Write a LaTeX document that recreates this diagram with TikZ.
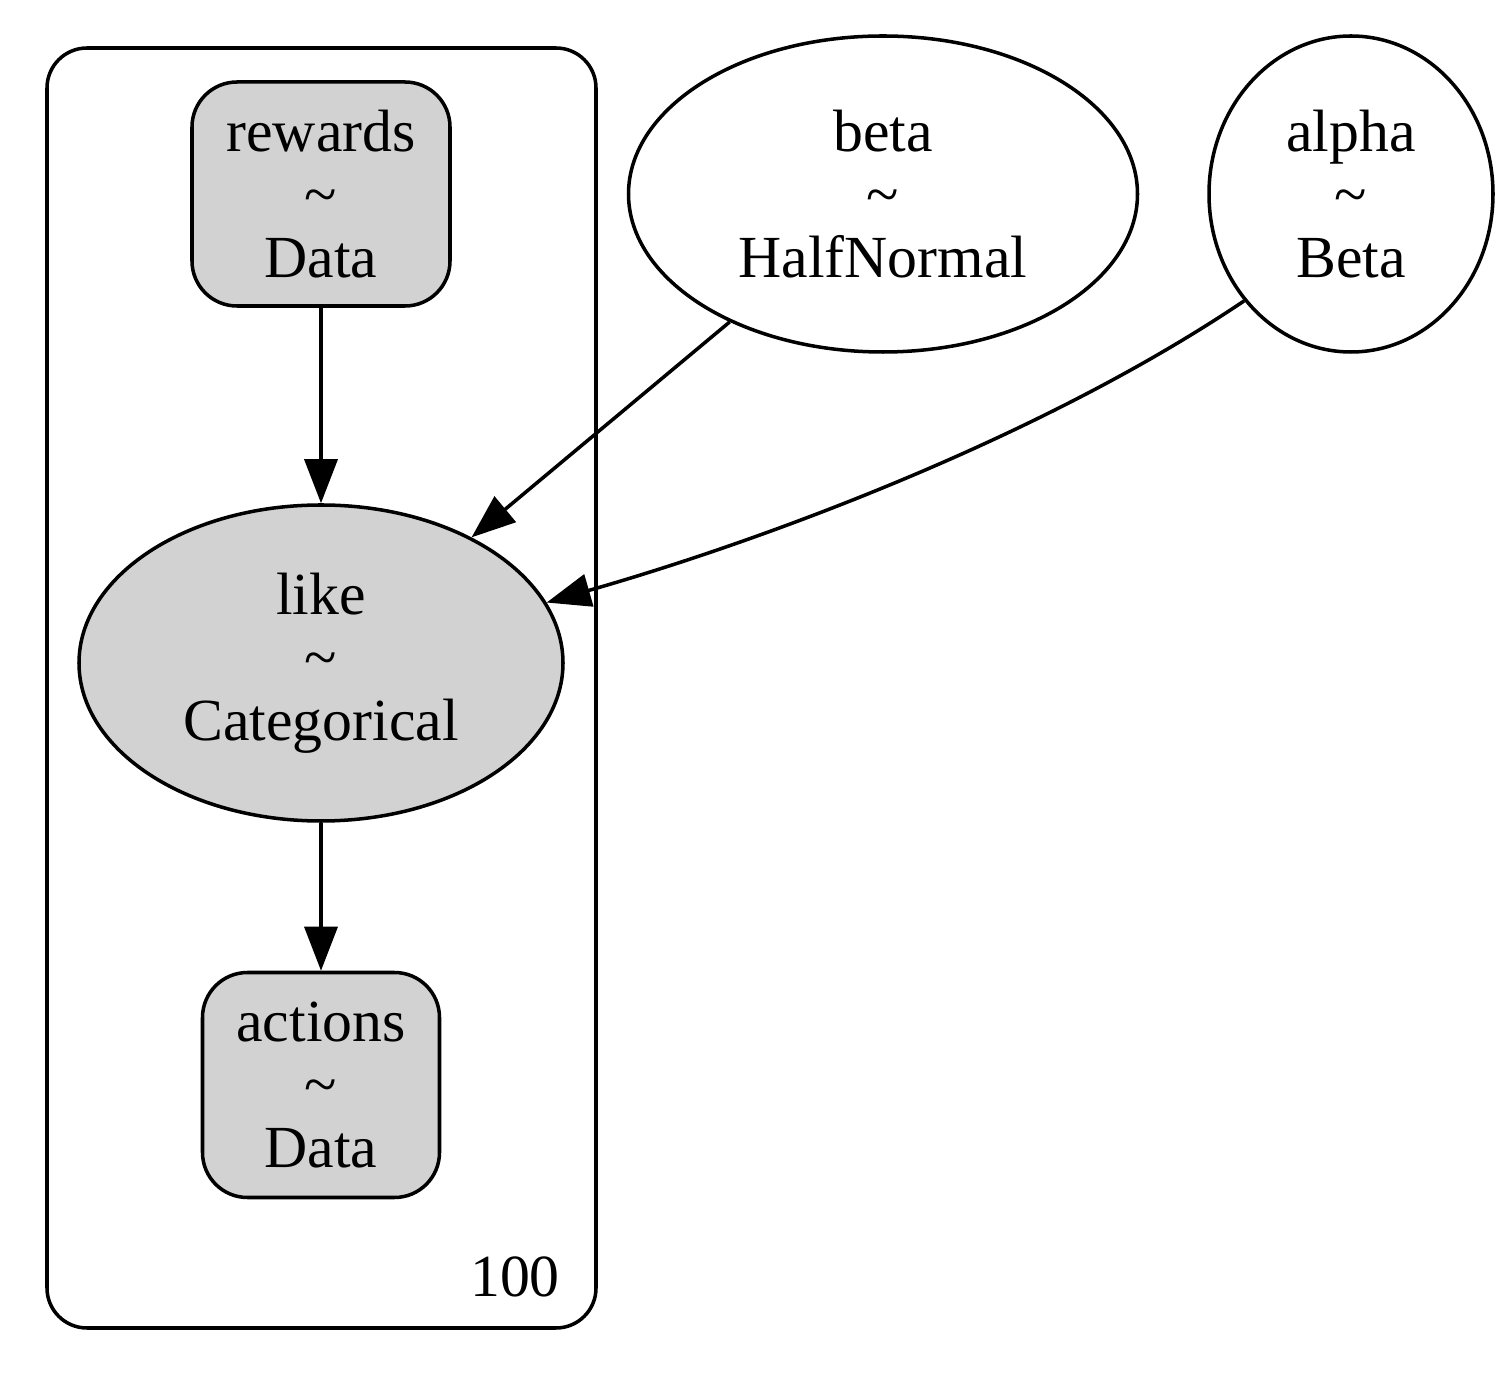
\documentclass[tikz,border=0pt]{standalone}
\usepackage{fontspec}
\setmainfont{Liberation Serif}
\usetikzlibrary{shapes.geometric, arrows.meta}
\tikzset{>={Triangle[length=0.44cm, width=0.33cm]}, % graphviz-like filled heads
every node/.style={font=\fontsize{17}{17.9}\selectfont, align=center, line width=1pt},
obs/.style={draw, rectangle, rounded corners=0.45cm, fill=gray!35, inner sep=0pt}, % observed data
rv/.style={draw, ellipse, inner sep=0pt}, % random variable
plate/.style={draw, rounded corners=0.4cm, line width=1pt},
}
\begin{document}
\begin{tikzpicture}[line width=1pt]
\useasboundingbox (0,0) rectangle (15.06,13.76);
\draw[plate] (0.47,0.48) rectangle (5.96,13.28);
\node[obs, minimum width=2.58cm, minimum height=2.24cm] (rewards) at (3.21,11.82) {rewards\\\textasciitilde\\Data};
\node[rv, minimum width=5.09cm, minimum height=3.16cm] (beta) at (8.83,11.82) {beta\\\textasciitilde\\HalfNormal};
\node[rv, minimum width=2.84cm, minimum height=3.16cm] (alpha) at (13.51,11.82) {alpha\\\textasciitilde\\Beta};
\node[rv, fill=gray!35, minimum width=4.84cm, minimum height=3.16cm] (like) at (3.21,7.13) {like\\\textasciitilde\\Categorical};
\node[obs, minimum width=2.37cm, minimum height=2.25cm] (actions) at (3.21,2.91) {actions\\\textasciitilde\\Data};
\node (n) at (5.15,0.99) {100};

\draw[->] (rewards) -- (like);
\draw[->] (like) -- (actions);
\draw[->] (beta) -- (like);
\draw[->] (alpha.225) to[out=214, in=16, looseness=0.8] (like.15);
\end{tikzpicture}
\end{document}
